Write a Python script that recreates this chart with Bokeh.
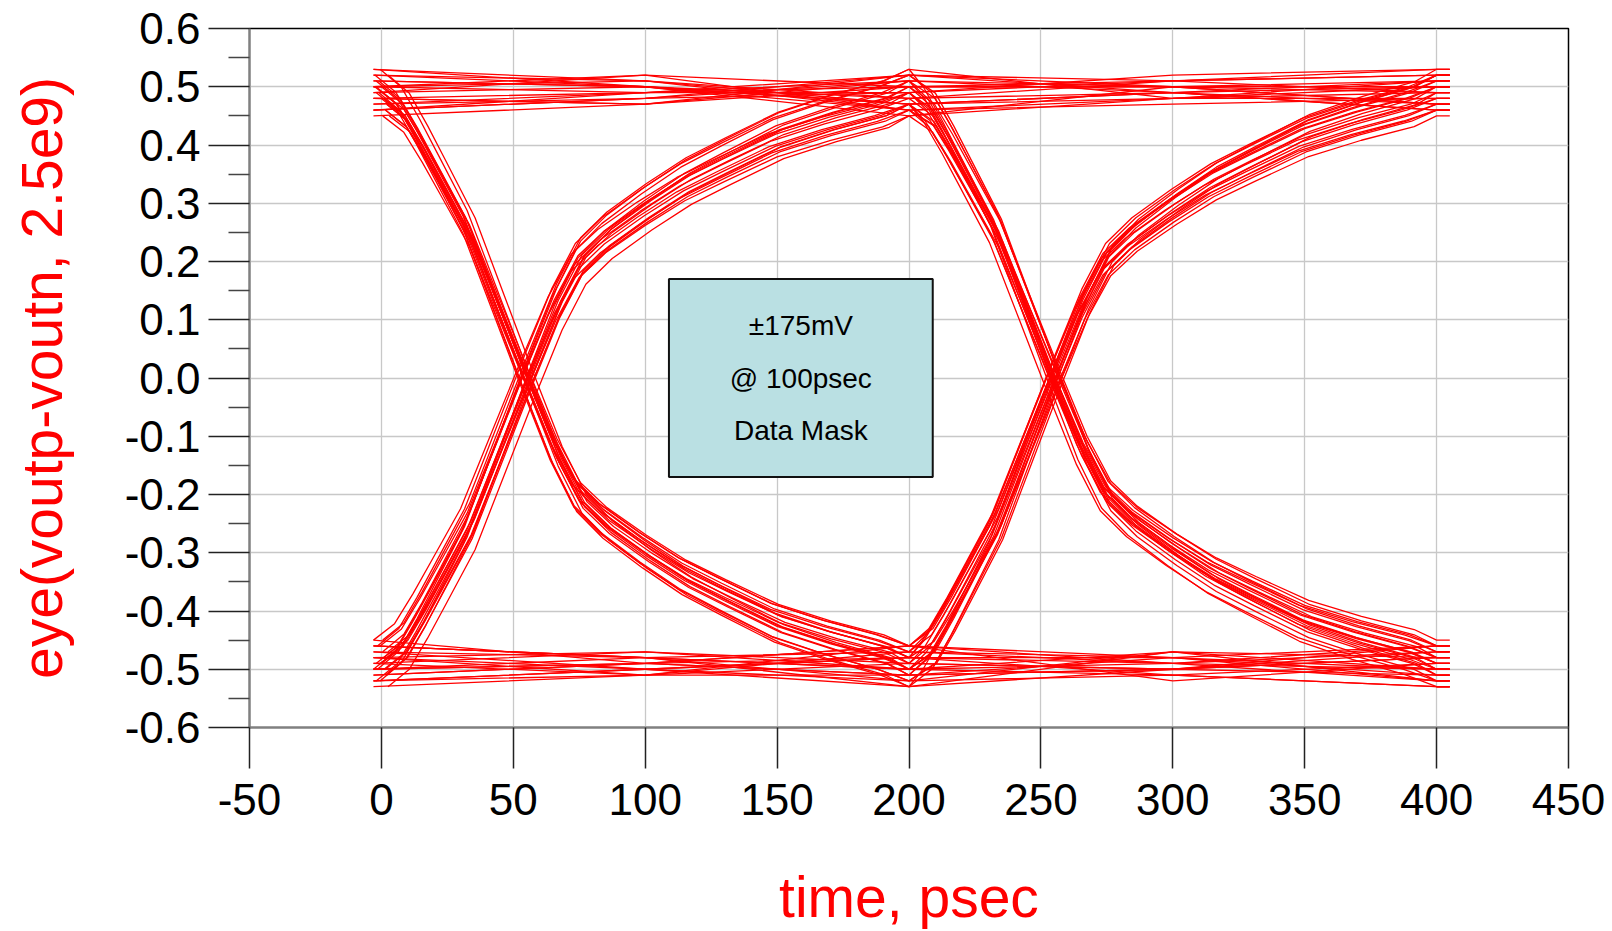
from bokeh.plotting import figure
from bokeh.models import Range1d, FixedTicker, CustomJSTickFormatter, BoxAnnotation, ColumnDataSource
from bokeh.core.properties import value
from bokeh.embed import file_html
from bokeh.resources import INLINE

# ---------------- data ----------------
x_ticks = [-50, 0, 50, 100, 150, 200, 250, 300, 350, 400, 450]
y_ticks = [-0.6, -0.5, -0.4, -0.3, -0.2, -0.1, 0.0, 0.1, 0.2, 0.3, 0.4, 0.5, 0.6]
y_minor = [-0.55, -0.45, -0.35, -0.25, -0.15, -0.05, 0.05, 0.15, 0.25, 0.35, 0.45, 0.55]

# unit-interval boundaries (psec), mid-UI offset and trace end
ui_nodes = [0, 200, 400]
ui_mid = 100
trace_end = 405
flat_start = -3

# edge shape: time after UI start (psec) and fraction of the swing completed
edge_t = [8, 15, 22, 33, 44, 55, 66, 75, 85, 100, 115, 130, 150, 170, 190]
edge_frac = [0.03, 0.085, 0.145, 0.24, 0.37, 0.50, 0.625, 0.705, 0.75, 0.80, 0.845, 0.88, 0.925, 0.955, 0.98]

# bit pattern of every trace (level at t=0, t=200, t=400)
trace_bits = [
    "HHH", "HHL", "HLH", "HLL", "LHH", "LHL", "LLH", "LLL",
    "HHH", "HHL", "HLH", "HLL", "LHH", "LHL", "LLH", "LLL",
    "HHH", "HHL", "HLH", "HLL", "LHH", "LHL", "LLH", "LLL",
    "HHH", "HHL", "HLH", "HLL", "LHH", "LHL", "LLH", "LLL",
    "HHH", "HHL", "HLH", "HLL", "LHH", "LHL", "LLH", "LLL",
    "HHH", "HHL", "HLH", "HLL", "LHH", "LHL", "LLH", "LLL",
    "HHH", "HHL", "HLH", "HLL", "LHH", "LHL", "LLH", "LLL",
    "HHH", "HHL", "HLH", "HLL", "LHH", "LHL", "LLH", "LLL",
    "HHH", "HHL", "HLH", "HLL", "LHH", "LHL", "LLH", "LLL",
    "HHH", "HHL", "HLH", "HLL", "LHH", "LHL", "LLH", "LLL",
]
# level magnitudes (V) at t=0, 200, 400
trace_v0 = [0.50, 0.47, 0.49, 0.52, 0.46, 0.50, 0.48, 0.51,
            0.46, 0.51, 0.47, 0.49, 0.50, 0.45, 0.52, 0.47,
            0.52, 0.48, 0.50, 0.46, 0.49, 0.51, 0.46, 0.50,
            0.48, 0.53, 0.45, 0.50, 0.52, 0.47, 0.50, 0.48,
            0.45, 0.49, 0.51, 0.48, 0.47, 0.52, 0.49, 0.46,
            0.51, 0.46, 0.48, 0.53, 0.50, 0.48, 0.47, 0.52,
            0.49, 0.50, 0.52, 0.47, 0.45, 0.49, 0.51, 0.49,
            0.47, 0.52, 0.46, 0.51, 0.48, 0.50, 0.53, 0.45,
            0.53, 0.48, 0.50, 0.49, 0.51, 0.46, 0.48, 0.52,
            0.46, 0.50, 0.48, 0.45, 0.49, 0.53, 0.46, 0.50]
trace_v1 = [0.48, 0.51, 0.46, 0.50, 0.52, 0.47, 0.49, 0.46,
            0.51, 0.47, 0.50, 0.53, 0.46, 0.49, 0.48, 0.52,
            0.47, 0.50, 0.52, 0.48, 0.45, 0.51, 0.50, 0.47,
            0.50, 0.46, 0.49, 0.47, 0.51, 0.53, 0.46, 0.49,
            0.52, 0.48, 0.47, 0.50, 0.49, 0.46, 0.51, 0.53,
            0.46, 0.52, 0.50, 0.48, 0.47, 0.50, 0.52, 0.48,
            0.50, 0.49, 0.46, 0.51, 0.53, 0.47, 0.48, 0.50,
            0.49, 0.47, 0.51, 0.46, 0.50, 0.52, 0.47, 0.51,
            0.45, 0.51, 0.48, 0.52, 0.47, 0.49, 0.53, 0.46,
            0.52, 0.46, 0.53, 0.49, 0.48, 0.45, 0.50, 0.51]
trace_v2 = [0.47, 0.50, 0.52, 0.48, 0.49, 0.46, 0.51, 0.50,
            0.49, 0.52, 0.46, 0.47, 0.51, 0.50, 0.48, 0.53,
            0.50, 0.46, 0.49, 0.52, 0.47, 0.48, 0.53, 0.46,
            0.52, 0.49, 0.47, 0.51, 0.46, 0.50, 0.52, 0.48,
            0.46, 0.51, 0.50, 0.49, 0.53, 0.48, 0.47, 0.50,
            0.48, 0.47, 0.52, 0.46, 0.51, 0.49, 0.50, 0.53,
            0.51, 0.48, 0.50, 0.46, 0.49, 0.52, 0.46, 0.47,
            0.53, 0.46, 0.48, 0.50, 0.47, 0.51, 0.49, 0.52,
            0.48, 0.53, 0.45, 0.52, 0.50, 0.47, 0.52, 0.49,
            0.50, 0.45, 0.51, 0.48, 0.52, 0.49, 0.46, 0.51]
# level magnitudes (V) in the middle of each flat UI (t=100, t=300)
trace_m1 = [0.51, 0.49, 0.48, 0.50, 0.49, 0.48, 0.47, 0.49,
            0.48, 0.50, 0.49, 0.48, 0.50, 0.47, 0.50, 0.50,
            0.50, 0.47, 0.51, 0.49, 0.48, 0.50, 0.48, 0.48,
            0.49, 0.51, 0.47, 0.50, 0.49, 0.49, 0.49, 0.51,
            0.47, 0.50, 0.50, 0.47, 0.48, 0.51, 0.51, 0.48,
            0.50, 0.48, 0.49, 0.51, 0.50, 0.48, 0.48, 0.50,
            0.52, 0.49, 0.48, 0.49, 0.47, 0.50, 0.49, 0.47,
            0.48, 0.51, 0.50, 0.48, 0.49, 0.49, 0.51, 0.49,
            0.50, 0.47, 0.49, 0.50, 0.51, 0.48, 0.50, 0.51,
            0.49, 0.52, 0.47, 0.49, 0.48, 0.51, 0.48, 0.49]
trace_m2 = [0.49, 0.48, 0.50, 0.47, 0.51, 0.49, 0.50, 0.48,
            0.50, 0.49, 0.48, 0.50, 0.48, 0.50, 0.47, 0.51,
            0.48, 0.51, 0.50, 0.49, 0.50, 0.47, 0.51, 0.49,
            0.51, 0.47, 0.49, 0.48, 0.49, 0.51, 0.49, 0.50,
            0.49, 0.50, 0.48, 0.51, 0.52, 0.48, 0.50, 0.47,
            0.47, 0.49, 0.51, 0.48, 0.49, 0.50, 0.48, 0.51,
            0.50, 0.48, 0.49, 0.50, 0.48, 0.49, 0.47, 0.49,
            0.51, 0.50, 0.47, 0.49, 0.50, 0.48, 0.50, 0.48,
            0.48, 0.51, 0.50, 0.47, 0.49, 0.50, 0.49, 0.52,
            0.50, 0.47, 0.49, 0.50, 0.51, 0.49, 0.48, 0.50]
# edge timing jitter (psec) of first and second UI
trace_dt1 = [1.0, -2.0, 0.5, 2.5, -1.5, 1.5, -0.5, 2.0,
             -2.5, 0.0, 2.0, -1.0, 1.0, -3.0, 0.5, -1.5,
             2.5, -0.5, -2.0, 1.5, 0.0, 2.0, -1.0, 0.5,
             -1.0, 1.5, 3.0, -2.5, -0.5, 0.5, 1.0, -2.0,
             0.5, -1.5, -1.0, 0.0, 2.5, -2.0, 2.0, 1.0,
             -2.0, 2.5, 1.0, -0.5, -3.0, 1.0, -1.5, 0.0,
             1.5, -1.0, -2.5, 2.0, 0.5, -0.5, 0.0, -2.5,
             -0.5, 0.5, 1.5, -2.0, 2.0, -1.5, 2.5, 1.5,
             -1.0, 2.0, 0.0, -2.0, 1.5, -0.5, 3.0, -1.5,
             2.0, -3.0, 1.0, 0.5, -2.0, 2.5, -0.5, 1.0]
trace_dt2 = [-1.5, 2.0, -0.5, 1.0, 2.5, -2.0, 0.0, -1.0,
             1.5, -2.5, 0.5, 2.0, -1.0, 1.0, -3.0, 0.5,
             -0.5, 1.5, 2.5, -1.5, 0.0, -1.0, 2.0, -2.0,
             2.0, -0.5, -2.0, 0.5, 1.5, -2.5, 1.0, 3.0,
             0.0, 1.0, -1.5, -2.5, 0.5, 2.5, -0.5, 1.5,
             -2.0, 0.5, 1.5, 1.0, -1.5, -0.5, 2.0, -1.0,
             1.0, -1.5, 0.0, -0.5, 2.0, 1.5, -2.5, 0.5,
             2.5, 0.0, -1.0, 1.5, -2.0, 2.0, 0.5, -1.5,
             0.5, -2.0, 1.5, -1.0, 3.0, -0.5, 1.0, -3.0,
             -1.0, 1.5, -2.5, 2.0, 0.0, 1.0, -1.5, 2.5]

# data-mask annotation
mask_t = [109, 209]
mask_v = [-0.17, 0.17]
mask_lines = ["\u00b1175mV", "@ 100psec", "Data Mask"]
mask_text_x = [159, 159, 159]
mask_text_y = [0.09, 0.0, -0.09]

x_title = "time, psec"
y_title = "eye(voutp-voutn, 2.5e9)"

# ---------------- build traces ----------------
xs, ys = [], []
for i, bits in enumerate(trace_bits):
    mags = [trace_v0[i], trace_v1[i], trace_v2[i]]
    mids = [trace_m1[i], trace_m2[i]]
    sv = [m if b == "H" else -m for m, b in zip(mags, bits)]
    dts = [trace_dt1[i], trace_dt2[i]]
    tx, ty = [], []
    for k in range(2):
        t0, t1 = ui_nodes[k], ui_nodes[k + 1]
        va, vb = sv[k], sv[k + 1]
        if k == 0:
            tx.append(t0 + (flat_start if bits[0] == bits[1] else dts[0]))
            ty.append(va)
        if bits[k] != bits[k + 1]:
            for et, ef in zip(edge_t, edge_frac):
                tx.append(t0 + et + dts[k])
                ty.append(va + (vb - va) * ef)
        else:
            tx.append(t0 + ui_mid)
            ty.append(mids[k] if bits[k] == "H" else -mids[k])
        tx.append(t1)
        ty.append(vb)
    tx.append(trace_end)
    ty.append(sv[2])
    xs.append(tx)
    ys.append(ty)

FONT = "Liberation Sans"

p = figure(width=1612, height=931, x_range=Range1d(-50, 450), y_range=Range1d(-0.6, 0.6),
           output_backend="svg", toolbar_location=None,
           min_border_left=249, min_border_right=44, min_border_top=28, min_border_bottom=204)
p.background_fill_color = "white"
p.border_fill_color = "white"
p.outline_line_color = "black"
p.outline_line_width = 1.5

p.xaxis.ticker = FixedTicker(ticks=x_ticks)
p.yaxis.ticker = FixedTicker(ticks=y_ticks, minor_ticks=y_minor)
p.xaxis.formatter = CustomJSTickFormatter(code="return tick.toFixed(0)")
p.yaxis.formatter = CustomJSTickFormatter(code="return tick.toFixed(1)")

for ax in (p.xaxis[0], p.yaxis[0]):
    ax.axis_line_color = "#808080"
    ax.axis_line_width = 2
    ax.major_tick_line_color = "#222222"
    ax.major_tick_line_width = 1.5
    ax.major_tick_in = 0
    ax.major_tick_out = 41
    ax.major_label_text_font = FONT
    ax.major_label_text_font_size = "44px"
    ax.major_label_text_color = "black"
    ax.axis_label_text_font = FONT
    ax.axis_label_text_font_size = "57px"
    ax.axis_label_text_font_style = "normal"
    ax.axis_label_text_color = "red"

p.xaxis.minor_tick_out = 0
p.xaxis.minor_tick_in = 0
p.yaxis.minor_tick_in = 0
p.yaxis.minor_tick_out = 21
p.yaxis.minor_tick_line_color = "#444444"
p.yaxis.minor_tick_line_width = 1.5

p.xaxis.axis_label = x_title
p.yaxis.axis_label = y_title
p.yaxis.major_label_standoff = 8
p.xaxis.major_label_standoff = 15
p.yaxis.axis_label_standoff = 48
p.xaxis.axis_label_standoff = 47

p.xgrid.grid_line_color = "#c8c8c8"
p.ygrid.grid_line_color = "#c8c8c8"
p.xgrid.grid_line_width = 1.3
p.ygrid.grid_line_width = 1.3

p.multi_line(xs=xs, ys=ys, line_color="#ff0000", line_width=1.3)

p.add_layout(BoxAnnotation(left=mask_t[0], right=mask_t[1], bottom=mask_v[0], top=mask_v[1],
                           fill_color="#bae0e3", fill_alpha=1.0, line_color="#111111",
                           line_alpha=1.0, line_width=2))
src = ColumnDataSource(dict(x=mask_text_x, y=mask_text_y, t=mask_lines))
p.text(x="x", y="y", text="t", source=src, text_font=value(FONT), text_font_size="28px",
       text_align="center", text_baseline="middle", text_color="black", level="overlay")

open("out.html", "w").write(file_html(p, INLINE))
